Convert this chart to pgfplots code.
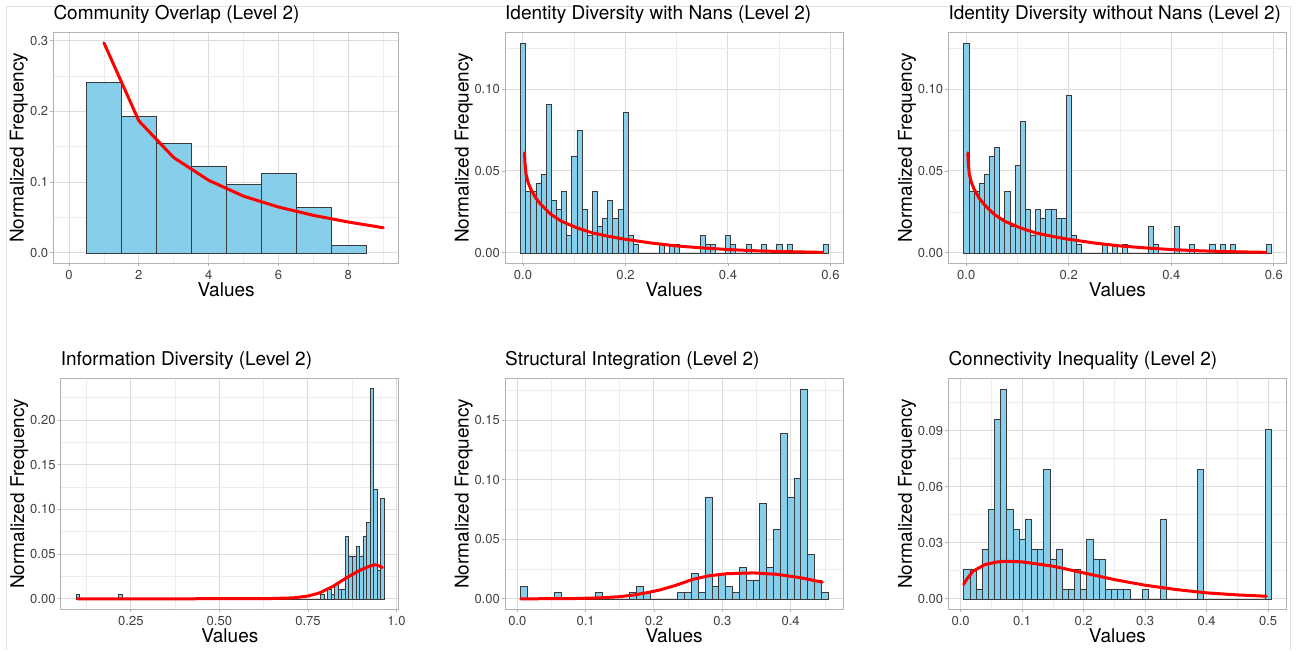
\documentclass[border=0pt]{standalone}
\usepackage{pgfplots}
\pgfplotsset{compat=1.18}
\usepackage{fontspec}
\setmainfont{TeX Gyre Heros}
\definecolor{barfill}{HTML}{87CEEB}
\definecolor{barline}{HTML}{3A3A3A}
\definecolor{gridmaj}{HTML}{DCDCDC}
\definecolor{gridmin}{HTML}{EDEDED}
\definecolor{frame}{HTML}{B3B3B3}
\pgfplotsset{
  panel/.style={
    scale only axis, width=338.3pt, height=231pt,
    axis line style={draw=frame, line width=1pt},
    xmajorgrids, ymajorgrids, xminorgrids, yminorgrids,
    major grid style={draw=gridmaj, line width=1pt},
    minor grid style={draw=gridmin, line width=0.7pt},
    tick align=outside, major tick length=3pt, minor tick length=0pt,
    xtick pos=left, ytick pos=left,
    tick style={draw=frame, line width=0.8pt},
    tick label style={font=\fontsize{13}{13}\selectfont, text=black!75},
    yticklabel style={inner sep=0pt, anchor=east, xshift=-2pt},
    xticklabel style={inner sep=0pt, anchor=north, yshift=-4pt},
    title style={font=\fontsize{19}{19}\selectfont, anchor=base west, at={(axis description cs:0,1)}, yshift=7pt, inner sep=0pt},
    xlabel={Values}, ylabel={Normalized Frequency},
    label style={font=\fontsize{19}{19}\selectfont},
    xlabel style={at={(axis description cs:0.5,0)}, anchor=base, yshift=-33.4pt, inner sep=0pt},
    ylabel style={at={(axis description cs:-0.1079,0.5)}, anchor=base, inner sep=0pt},
    anchor=north west,
  },
  hbar/.style={ybar, bar width=#1, bar shift=0pt, fill=barfill, draw=barline, line width=0.5pt},
  base/.style={draw=barline, line width=0.5pt, no markers},
  fit/.style={draw=red, line width=3pt, no markers, line join=round, line cap=round},
}
\begin{document}
\begin{tikzpicture}
\path[use as bounding box] (0pt,0pt) rectangle (1300pt,-650pt);
\draw[draw=black!12, line width=0.8pt] (6.5pt,-650pt) -- (6.5pt,-6.5pt) -- (1290pt,-6.5pt) -- (1290pt,-650pt);

% Panel 1
\begin{axis}[panel, at={(53.3pt,-32.3pt)}, width=345.7pt,
  title={Community Overlap (Level 2)},
  xmin=-0.45, xmax=9.45, ymin=-0.0149, ymax=0.3119,
  xtick={0,2,4,6,8}, xticklabels={0,2,4,6,8}, minor xtick={1,3,5,7,9},
  ytick={0,0.1,0.2,0.3}, yticklabels={0.0,0.1,0.2,0.3}, minor ytick={0.05,0.15,0.25},
  ylabel style={at={(axis description cs:-0.0856,0.5)}}]
\addplot[hbar=1] coordinates {(1,0.2406)(2,0.1925)(3,0.1551)(4,0.1230)(5,0.0963)(6,0.1123)(7,0.0642)(8,0.0107)};
\addplot[fit] coordinates {(1,0.297)(2,0.1866)(3,0.1346)(4,0.1025)(5,0.0800)(6,0.0647)(7,0.0529)(8,0.0435)(9,0.0354)};
\end{axis}

% Panel 2
\begin{axis}[panel, at={(505pt,-32.3pt)},
  title={Identity Diversity with Nans (Level 2)},
  xmin=-0.035, xmax=0.625, ymin=-0.0064, ymax=0.1347,
  xtick={0,0.2,0.4,0.6}, xticklabels={0.0,0.2,0.4,0.6}, minor xtick={0.1,0.3,0.5},
  ytick={0,0.05,0.1}, yticklabels={0.00,0.05,0.10}, minor ytick={0.025,0.075,0.125}]
\addplot[base] coordinates {(-0.005,0)(0.595,0)};
\addplot[hbar=0.01] coordinates {(0.00,0.1283)(0.01,0.0374)(0.02,0.0374)(0.03,0.0428)(0.04,0.0481)(0.05,0.0909)(0.06,0.0321)(0.07,0.0267)(0.08,0.0374)(0.09,0.0107)(0.10,0.0588)(0.11,0.0749)(0.12,0.0267)(0.13,0.0107)(0.14,0.0374)(0.15,0.0160)(0.16,0.0214)(0.17,0.0321)(0.18,0.0214)(0.19,0.0267)(0.20,0.0856)(0.21,0.0107)(0.22,0.0053)(0.27,0.0053)(0.29,0.0053)(0.30,0.0053)(0.35,0.0107)(0.36,0.0053)(0.37,0.0053)(0.40,0.0107)(0.41,0.0053)(0.44,0.0053)(0.47,0.0053)(0.50,0.0053)(0.52,0.0053)(0.59,0.0053)};
\addplot[fit] coordinates {(0.003,0.061)(0.004,0.055)(0.006,0.048)(0.01,0.043)(0.0156,0.0387)(0.025,0.0335)(0.035,0.0295)(0.055,0.0234)(0.075,0.0193)(0.105,0.0153)(0.135,0.0122)(0.165,0.0102)(0.195,0.0085)(0.25,0.0060)(0.30,0.0042)(0.35,0.0030)(0.40,0.0020)(0.45,0.0013)(0.50,0.0008)(0.55,0.0005)(0.585,0.0003)};
\end{axis}

% Panel 3
\begin{axis}[panel, at={(948.3pt,-32.3pt)},
  title={Identity Diversity without Nans (Level 2)},
  xmin=-0.035, xmax=0.625, ymin=-0.0064, ymax=0.1347,
  xtick={0,0.2,0.4,0.6}, xticklabels={0.0,0.2,0.4,0.6}, minor xtick={0.1,0.3,0.5},
  ytick={0,0.05,0.1}, yticklabels={0.00,0.05,0.10}, minor ytick={0.025,0.075,0.125}]
\addplot[base] coordinates {(-0.005,0)(0.595,0)};
\addplot[hbar=0.01] coordinates {(0.00,0.1283)(0.01,0.0374)(0.02,0.0374)(0.03,0.0428)(0.04,0.0481)(0.05,0.0588)(0.06,0.0642)(0.07,0.0214)(0.08,0.0374)(0.09,0.0160)(0.10,0.0535)(0.11,0.0802)(0.12,0.0267)(0.13,0.0107)(0.14,0.0267)(0.15,0.0214)(0.16,0.0267)(0.17,0.0267)(0.18,0.0214)(0.19,0.0214)(0.20,0.0963)(0.21,0.0107)(0.22,0.0053)(0.27,0.0053)(0.29,0.0053)(0.31,0.0053)(0.36,0.0160)(0.37,0.0053)(0.41,0.0160)(0.44,0.0053)(0.48,0.0053)(0.50,0.0053)(0.52,0.0053)(0.59,0.0053)};
\addplot[fit] coordinates {(0.003,0.061)(0.004,0.055)(0.006,0.048)(0.01,0.043)(0.0156,0.0387)(0.025,0.0335)(0.035,0.0295)(0.055,0.0234)(0.075,0.0193)(0.105,0.0153)(0.135,0.0122)(0.165,0.0102)(0.195,0.0085)(0.25,0.0060)(0.30,0.0042)(0.35,0.0030)(0.40,0.0020)(0.45,0.0013)(0.50,0.0008)(0.55,0.0005)(0.585,0.0003)};
\end{axis}

% Panel 4
\begin{axis}[panel, at={(60.7pt,-378.3pt)},
  title={Information Diversity (Level 2)},
  xmin=0.052, xmax=1.007, ymin=-0.0118, ymax=0.2468,
  xtick={0.25,0.5,0.75,1}, xticklabels={0.25,0.50,0.75,1.0}, minor xtick={0.125,0.375,0.625,0.875},
  ytick={0,0.05,0.1,0.15,0.2}, yticklabels={0.00,0.05,0.10,0.15,0.20}, minor ytick={0.025,0.075,0.125,0.175,0.225}]
\addplot[base] coordinates {(0.095,0)(0.965,0)};
\addplot[hbar=0.01] coordinates {(0.10,0.0053)(0.22,0.0053)(0.79,0.0053)(0.81,0.0107)(0.82,0.0053)(0.83,0.0160)(0.84,0.0107)(0.85,0.0107)(0.86,0.0695)(0.87,0.0481)(0.88,0.0481)(0.89,0.0588)(0.90,0.0481)(0.91,0.0695)(0.92,0.0856)(0.93,0.2353)(0.94,0.1230)(0.95,0.0321)(0.96,0.1123)};
\addplot[fit] coordinates {(0.10,0)(0.40,0)(0.60,0.0001)(0.65,0.0003)(0.7087,0.0010)(0.75,0.0030)(0.784,0.0067)(0.821,0.0140)(0.859,0.0235)(0.897,0.0320)(0.925,0.0366)(0.939,0.0380)(0.948,0.0373)(0.956,0.0358)(0.96,0.0350)};
\end{axis}

% Panel 5
\begin{axis}[panel, at={(505pt,-378.3pt)},
  title={Structural Integration (Level 2)},
  xmin=-0.018, xmax=0.477, ymin=-0.0088, ymax=0.1853,
  xtick={0,0.1,0.2,0.3,0.4}, xticklabels={0.0,0.1,0.2,0.3,0.4}, minor xtick={0.05,0.15,0.25,0.35,0.45},
  ytick={0,0.05,0.1,0.15}, yticklabels={0.00,0.05,0.10,0.15}, minor ytick={0.025,0.075,0.125,0.175}]
\addplot[base] coordinates {(0.0045,0)(0.4545,0)};
\addplot[hbar=0.01] coordinates {(0.0095,0.0107)(0.0595,0.0053)(0.1195,0.0053)(0.1695,0.0053)(0.1795,0.0107)(0.1895,0.0053)(0.2395,0.0053)(0.2495,0.0053)(0.2595,0.0214)(0.2695,0.0053)(0.2795,0.0856)(0.2895,0.0107)(0.2995,0.0214)(0.3095,0.0107)(0.3195,0.0053)(0.3295,0.0267)(0.3395,0.0160)(0.3495,0.0160)(0.3595,0.0802)(0.3695,0.0267)(0.3795,0.0588)(0.3895,0.1390)(0.3995,0.0856)(0.4095,0.1016)(0.4195,0.1765)(0.4295,0.0374)(0.4395,0.0160)(0.4495,0.0053)};
\addplot[fit] coordinates {(0.005,0)(0.08,0.0002)(0.12,0.0008)(0.15,0.0018)(0.17,0.0032)(0.19,0.0052)(0.2088,0.0075)(0.23,0.0110)(0.2576,0.0165)(0.28,0.0193)(0.3063,0.0211)(0.3454,0.0218)(0.3795,0.0206)(0.4137,0.0178)(0.4463,0.0140)};
\end{axis}

% Panel 6
\begin{axis}[panel, at={(948.3pt,-378.3pt)},
  title={Connectivity Inequality (Level 2)},
  xmin=-0.02, xmax=0.53, ymin=-0.0056, ymax=0.1181,
  xtick={0,0.1,0.2,0.3,0.4,0.5}, xticklabels={0.0,0.1,0.2,0.3,0.4,0.5}, minor xtick={0.05,0.15,0.25,0.35,0.45},
  ytick={0,0.03,0.06,0.09}, yticklabels={0.00,0.03,0.06,0.09}, minor ytick={0.015,0.045,0.075,0.105}]
\addplot[base] coordinates {(0.005,0)(0.505,0)};
\addplot[hbar=0.01] coordinates {(0.01,0.0160)(0.02,0.0160)(0.03,0.0053)(0.04,0.0267)(0.05,0.0481)(0.06,0.0963)(0.07,0.1123)(0.08,0.0481)(0.09,0.0374)(0.10,0.0321)(0.11,0.0428)(0.12,0.0267)(0.13,0.0267)(0.14,0.0695)(0.15,0.0214)(0.16,0.0267)(0.17,0.0053)(0.18,0.0053)(0.19,0.0160)(0.20,0.0053)(0.21,0.0321)(0.22,0.0214)(0.23,0.0214)(0.24,0.0053)(0.25,0.0053)(0.26,0.0053)(0.27,0.0053)(0.30,0.0053)(0.33,0.0428)(0.39,0.0695)(0.50,0.0909)};
\addplot[fit] coordinates {(0.005,0.0077)(0.01,0.0105)(0.02,0.0148)(0.04,0.0184)(0.06,0.0198)(0.075,0.0201)(0.10,0.0198)(0.15,0.0175)(0.20,0.0139)(0.25,0.0103)(0.30,0.0073)(0.35,0.0050)(0.40,0.0032)(0.45,0.0021)(0.497,0.0014)};
\end{axis}
\end{tikzpicture}
\end{document}
